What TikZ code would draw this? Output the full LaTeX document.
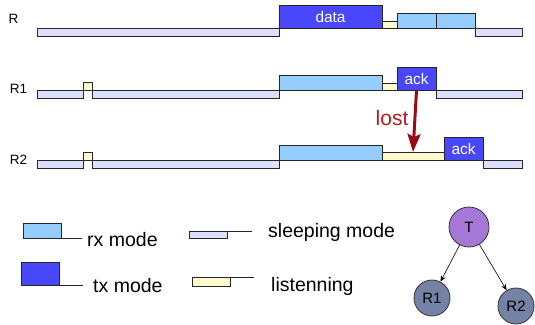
\documentclass[tikz,border=0pt]{standalone}
\usepackage{fontspec}
\setmainfont{Liberation Sans}
\usetikzlibrary{arrows.meta,positioning}
\definecolor{sleepfill}{RGB}{222,222,255}
\definecolor{rxfill}{RGB}{150,205,255}
\definecolor{txfill}{RGB}{72,72,250}
\definecolor{listenfill}{RGB}{255,250,205}
\definecolor{lostred}{RGB}{150,10,25}
\definecolor{lostlabel}{RGB}{185,25,30}
\definecolor{tcolor}{RGB}{165,120,215}
\definecolor{rcolor}{RGB}{115,130,165}

\tikzset{
    bar/.style={draw=black!85, line width=0.8pt},
    sleepbar/.style={bar, fill=sleepfill},
    rxbar/.style={bar, fill=rxfill},
    txbar/.style={bar, fill=txfill},
    listenbar/.style={bar, fill=listenfill},
    txbox/.style={txbar, text=white, inner sep=0pt, minimum height=23pt,
        font=\fontsize{15.4}{17}\selectfont},
    rowlbl/.style={inner sep=0pt, font=\fontsize{13.5}{15}\selectfont},
    leglbl/.style={anchor=west, inner sep=0pt, font=\fontsize{19.5}{21}\selectfont},
    legline/.style={draw=black!85, line width=0.7pt},
    treenode/.style={circle, draw=black!80, line width=0.8pt, inner sep=0pt,
        font=\fontsize{15}{17}\selectfont},
    treearrow/.style={-{Stealth[length=6pt,width=5pt]}, line width=0.6pt}
}

\begin{document}
\begin{tikzpicture}[x=1pt, y=-1pt]
    \useasboundingbox (0,0) rectangle (535,324);

    % Row labels
    \foreach \lbl/\lx/\ly in {R/13.5/19, R1/18.5/89, R2/18.5/160} {
        \node[rowlbl] (lbl\lbl) at (\lx,\ly) {\lbl};
    }

    % Short wake-up (listening) blips on R1 and R2
    \foreach \y in {90,160} {
        \draw[sleepbar] (37,\y) rectangle (83,\y+8);
        \draw[listenbar] (83,\y-8) rectangle (92,\y);
        \draw[sleepbar] (92,\y) rectangle (279,\y+8);
    }

    % R: sleeps, sends data, then listens and receives
    \draw[sleepbar] (37,28) rectangle (279,36);
    \node[txbox, minimum width=103pt] (data) at (330.5,16.5) {data};
    \draw[listenbar] (382,21) rectangle (397,28);
    \draw[rxbar] (397,13) rectangle (436,28);
    \draw[rxbar] (436,13) rectangle (475,28);
    \draw[sleepbar] (475,28) rectangle (522,36);

    % R1: receives data, answers with ack
    \draw[rxbar] (279,75) rectangle (382,90);
    \draw[listenbar] (382,83) rectangle (397,90);
    \node[txbox, minimum width=39pt] (ack1) at (416.5,78.5) {ack};
    \draw[sleepbar] (436,90) rectangle (522,98);

    % R2: receives data, waits longer, answers with ack
    \draw[rxbar] (279,145) rectangle (382,160);
    \draw[listenbar] (382,152) rectangle (444,160);
    \node[txbox, minimum width=39pt] (ack2) at (463.5,148.5) {ack};
    \draw[sleepbar] (483,160) rectangle (522,168);

    % Lost ack from R1
    \coordinate (lostend) at (413,152);
    \draw[lostred, line width=3pt, -{Stealth[length=18pt,width=13pt,inset=3pt]}] (ack1.south) -- (lostend);
    \node[text=lostlabel, inner sep=0pt, font=\fontsize{21}{23}\selectfont] (lost) at (392,118) {lost};

    % Legend
    \draw[rxbar] (23,223) rectangle (61,238);
    \draw[legline] (61,238) -- (82,238);
    \node[leglbl] (rxlbl) at (87,240) {rx mode};

    \draw[txbar] (21,262) rectangle (59,285);
    \draw[legline] (59,285) -- (83,285);
    \node[leglbl] (txlbl) at (93,286) {tx mode};

    \draw[sleepbar] (189,231) rectangle (227,238);
    \draw[legline] (227,231) -- (252,231);
    \node[leglbl] (sleeplbl) at (268,232) {sleeping mode};

    \draw[listenbar] (192,277) rectangle (230,286);
    \draw[legline] (230,277) -- (254,277);
    \node[leglbl] (listenlbl) at (271,286) {listenning};

    % Topology
    \node[treenode, fill=tcolor, minimum size=40pt] (T) at (469,227) {T};
    \node[treenode, fill=rcolor, minimum size=36pt] (R1n) at (432,298) {R1};
    \node[treenode, fill=rcolor, minimum size=36pt] (R2n) at (516,306) {R2};
    \draw[treearrow] (T) -- (R1n);
    \draw[treearrow] (T) -- (R2n);
\end{tikzpicture}
\end{document}
